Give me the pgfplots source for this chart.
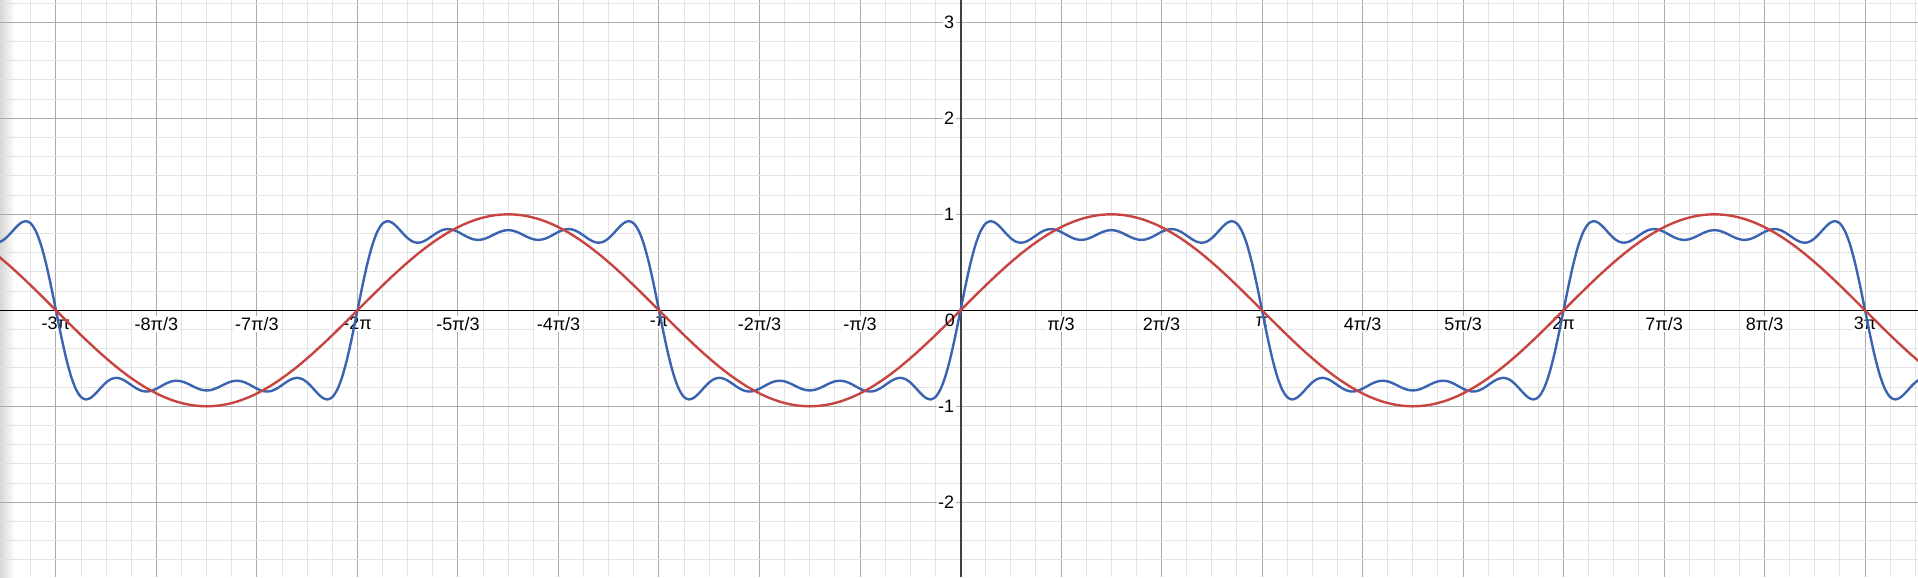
\documentclass[border=0pt]{standalone}
\usepackage{pgfplots}
\pgfplotsset{compat=1.18}
\usepackage{fontspec}
\setmainfont{Liberation Sans}
\definecolor{dblue}{HTML}{3A63B1}
\definecolor{dred}{HTML}{C74440}
\begin{document}
\begin{tikzpicture}
\begin{axis}[
  set layers,
  width=1438.5pt, height=432.75pt, scale only axis,
  xmin=-573.4, xmax=571.6, ymin=-2.778, ymax=3.232,
  axis lines=middle,
  axis line style={-},
  x axis line style={black, line width=0.9pt},
  y axis line style={black!75, line width=1.5pt},
  xtick={-540,-480,...,540},
  xticklabels={-3π,-8π/3,-7π/3,-2π,-5π/3,-4π/3,-π,-2π/3,-π/3,{},π/3,2π/3,π,4π/3,5π/3,2π,7π/3,8π/3,3π},
  minor xtick={-570,-555,...,570},
  ytick={-2,-1,0,1,2,3},
  yticklabels={-2,-1,{},1,2,3},
  minor ytick={-2.6,-2.4,-2.2,-1.8,-1.6,-1.4,-1.2,-0.8,-0.6,-0.4,-0.2,0.2,0.4,0.6,0.8,1.2,1.4,1.6,1.8,2.2,2.4,2.6,2.8,3.2},
  grid=both,
  major grid style={draw=black!33, line width=0.75pt},
  minor grid style={draw=black!11, line width=0.75pt},
  major tick length=0pt, minor tick length=0pt,
  tick label style={font=\fontsize{13.5}{15}\selectfont, text=black},
  xticklabel style={fill=white, inner sep=1pt, anchor=north, yshift=-4pt},
  yticklabel style={fill=white, inner sep=1pt, anchor=east, xshift=-3.5pt},
  clip=true,
]
\begin{pgfonlayer}{axis background}
\shade[left color=black!16, right color=white] (rel axis cs:0,0) rectangle ([xshift=11pt]rel axis cs:0,1);
\end{pgfonlayer}
\coordinate (SW) at (rel axis cs:0,0);
\coordinate (NE) at (rel axis cs:1,1);
\addplot[dblue, line width=1.8pt, smooth, no markers] coordinates {
(-576,0.7036) (-573,0.7156) (-570,0.7508) (-567,0.8033) (-564,0.8614) (-561,0.9090) (-558,0.9286) (-555,0.9043) (-552,0.8248) (-549,0.6862) (-546,0.4930) (-543,0.2579)
(-540,0) (-537,-0.2579) (-534,-0.4930) (-531,-0.6862) (-528,-0.8248) (-525,-0.9043) (-522,-0.9286) (-519,-0.9090) (-516,-0.8614) (-513,-0.8033)
(-510,-0.7508) (-507,-0.7156) (-504,-0.7036) (-501,-0.7145) (-498,-0.7426) (-495,-0.7789) (-492,-0.8134) (-489,-0.8376) (-486,-0.8461) (-483,-0.8380)
(-480,-0.8165) (-477,-0.7881) (-474,-0.7604) (-471,-0.7406) (-468,-0.7334) (-465,-0.7404) (-462,-0.7592) (-459,-0.7846) (-456,-0.8099) (-453,-0.8282)
(-450,-0.8349) (-447,-0.8282) (-444,-0.8099) (-441,-0.7846) (-438,-0.7592) (-435,-0.7404) (-432,-0.7334) (-429,-0.7406) (-426,-0.7604) (-423,-0.7881)
(-420,-0.8165) (-417,-0.8380) (-414,-0.8461) (-411,-0.8376) (-408,-0.8134) (-405,-0.7789) (-402,-0.7426) (-399,-0.7145) (-396,-0.7036) (-393,-0.7156)
(-390,-0.7508) (-387,-0.8033) (-384,-0.8614) (-381,-0.9090) (-378,-0.9286) (-375,-0.9043) (-372,-0.8248) (-369,-0.6862) (-366,-0.4930) (-363,-0.2579)
(-360,0) (-357,0.2579) (-354,0.4930) (-351,0.6862) (-348,0.8248) (-345,0.9043) (-342,0.9286) (-339,0.9090) (-336,0.8614) (-333,0.8033)
(-330,0.7508) (-327,0.7156) (-324,0.7036) (-321,0.7145) (-318,0.7426) (-315,0.7789) (-312,0.8134) (-309,0.8376) (-306,0.8461) (-303,0.8380)
(-300,0.8165) (-297,0.7881) (-294,0.7604) (-291,0.7406) (-288,0.7334) (-285,0.7404) (-282,0.7592) (-279,0.7846) (-276,0.8099) (-273,0.8282)
(-270,0.8349) (-267,0.8282) (-264,0.8099) (-261,0.7846) (-258,0.7592) (-255,0.7404) (-252,0.7334) (-249,0.7406) (-246,0.7604) (-243,0.7881)
(-240,0.8165) (-237,0.8380) (-234,0.8461) (-231,0.8376) (-228,0.8134) (-225,0.7789) (-222,0.7426) (-219,0.7145) (-216,0.7036) (-213,0.7156)
(-210,0.7508) (-207,0.8033) (-204,0.8614) (-201,0.9090) (-198,0.9286) (-195,0.9043) (-192,0.8248) (-189,0.6862) (-186,0.4930) (-183,0.2579)
(-180,0) (-177,-0.2579) (-174,-0.4930) (-171,-0.6862) (-168,-0.8248) (-165,-0.9043) (-162,-0.9286) (-159,-0.9090) (-156,-0.8614) (-153,-0.8033)
(-150,-0.7508) (-147,-0.7156) (-144,-0.7036) (-141,-0.7145) (-138,-0.7426) (-135,-0.7789) (-132,-0.8134) (-129,-0.8376) (-126,-0.8461) (-123,-0.8380)
(-120,-0.8165) (-117,-0.7881) (-114,-0.7604) (-111,-0.7406) (-108,-0.7334) (-105,-0.7404) (-102,-0.7592) (-99,-0.7846) (-96,-0.8099) (-93,-0.8282)
(-90,-0.8349) (-87,-0.8282) (-84,-0.8099) (-81,-0.7846) (-78,-0.7592) (-75,-0.7404) (-72,-0.7334) (-69,-0.7406) (-66,-0.7604) (-63,-0.7881)
(-60,-0.8165) (-57,-0.8380) (-54,-0.8461) (-51,-0.8376) (-48,-0.8134) (-45,-0.7789) (-42,-0.7426) (-39,-0.7145) (-36,-0.7036) (-33,-0.7156)
(-30,-0.7508) (-27,-0.8033) (-24,-0.8614) (-21,-0.9090) (-18,-0.9286) (-15,-0.9043) (-12,-0.8248) (-9,-0.6862) (-6,-0.4930) (-3,-0.2579)
(0,0) (3,0.2579) (6,0.4930) (9,0.6862) (12,0.8248) (15,0.9043) (18,0.9286) (21,0.9090) (24,0.8614) (27,0.8033)
(30,0.7508) (33,0.7156) (36,0.7036) (39,0.7145) (42,0.7426) (45,0.7789) (48,0.8134) (51,0.8376) (54,0.8461) (57,0.8380)
(60,0.8165) (63,0.7881) (66,0.7604) (69,0.7406) (72,0.7334) (75,0.7404) (78,0.7592) (81,0.7846) (84,0.8099) (87,0.8282)
(90,0.8349) (93,0.8282) (96,0.8099) (99,0.7846) (102,0.7592) (105,0.7404) (108,0.7334) (111,0.7406) (114,0.7604) (117,0.7881)
(120,0.8165) (123,0.8380) (126,0.8461) (129,0.8376) (132,0.8134) (135,0.7789) (138,0.7426) (141,0.7145) (144,0.7036) (147,0.7156)
(150,0.7508) (153,0.8033) (156,0.8614) (159,0.9090) (162,0.9286) (165,0.9043) (168,0.8248) (171,0.6862) (174,0.4930) (177,0.2579)
(180,0) (183,-0.2579) (186,-0.4930) (189,-0.6862) (192,-0.8248) (195,-0.9043) (198,-0.9286) (201,-0.9090) (204,-0.8614) (207,-0.8033)
(210,-0.7508) (213,-0.7156) (216,-0.7036) (219,-0.7145) (222,-0.7426) (225,-0.7789) (228,-0.8134) (231,-0.8376) (234,-0.8461) (237,-0.8380)
(240,-0.8165) (243,-0.7881) (246,-0.7604) (249,-0.7406) (252,-0.7334) (255,-0.7404) (258,-0.7592) (261,-0.7846) (264,-0.8099) (267,-0.8282)
(270,-0.8349) (273,-0.8282) (276,-0.8099) (279,-0.7846) (282,-0.7592) (285,-0.7404) (288,-0.7334) (291,-0.7406) (294,-0.7604) (297,-0.7881)
(300,-0.8165) (303,-0.8380) (306,-0.8461) (309,-0.8376) (312,-0.8134) (315,-0.7789) (318,-0.7426) (321,-0.7145) (324,-0.7036) (327,-0.7156)
(330,-0.7508) (333,-0.8033) (336,-0.8614) (339,-0.9090) (342,-0.9286) (345,-0.9043) (348,-0.8248) (351,-0.6862) (354,-0.4930) (357,-0.2579)
(360,0) (363,0.2579) (366,0.4930) (369,0.6862) (372,0.8248) (375,0.9043) (378,0.9286) (381,0.9090) (384,0.8614) (387,0.8033)
(390,0.7508) (393,0.7156) (396,0.7036) (399,0.7145) (402,0.7426) (405,0.7789) (408,0.8134) (411,0.8376) (414,0.8461) (417,0.8380)
(420,0.8165) (423,0.7881) (426,0.7604) (429,0.7406) (432,0.7334) (435,0.7404) (438,0.7592) (441,0.7846) (444,0.8099) (447,0.8282)
(450,0.8349) (453,0.8282) (456,0.8099) (459,0.7846) (462,0.7592) (465,0.7404) (468,0.7334) (471,0.7406) (474,0.7604) (477,0.7881)
(480,0.8165) (483,0.8380) (486,0.8461) (489,0.8376) (492,0.8134) (495,0.7789) (498,0.7426) (501,0.7145) (504,0.7036) (507,0.7156)
(510,0.7508) (513,0.8033) (516,0.8614) (519,0.9090) (522,0.9286) (525,0.9043) (528,0.8248) (531,0.6862) (534,0.4930) (537,0.2579)
(540,0) (543,-0.2579) (546,-0.4930) (549,-0.6862) (552,-0.8248) (555,-0.9043) (558,-0.9286) (561,-0.9090) (564,-0.8614) (567,-0.8033) (570,-0.7508) (573,-0.7156) (576,-0.7036)
};
\addplot[dred, line width=1.8pt, smooth, no markers] coordinates {
(-576,0.5878) (-567,0.4540) (-558,0.3090) (-549,0.1564) (-540,0)
(-531,-0.1564) (-522,-0.3090) (-513,-0.4540) (-504,-0.5878) (-495,-0.7071) (-486,-0.8090) (-477,-0.8910) (-468,-0.9511) (-459,-0.9877) (-450,-1)
(-441,-0.9877) (-432,-0.9511) (-423,-0.8910) (-414,-0.8090) (-405,-0.7071) (-396,-0.5878) (-387,-0.4540) (-378,-0.3090) (-369,-0.1564) (-360,0)
(-351,0.1564) (-342,0.3090) (-333,0.4540) (-324,0.5878) (-315,0.7071) (-306,0.8090) (-297,0.8910) (-288,0.9511) (-279,0.9877) (-270,1)
(-261,0.9877) (-252,0.9511) (-243,0.8910) (-234,0.8090) (-225,0.7071) (-216,0.5878) (-207,0.4540) (-198,0.3090) (-189,0.1564) (-180,0)
(-171,-0.1564) (-162,-0.3090) (-153,-0.4540) (-144,-0.5878) (-135,-0.7071) (-126,-0.8090) (-117,-0.8910) (-108,-0.9511) (-99,-0.9877) (-90,-1)
(-81,-0.9877) (-72,-0.9511) (-63,-0.8910) (-54,-0.8090) (-45,-0.7071) (-36,-0.5878) (-27,-0.4540) (-18,-0.3090) (-9,-0.1564) (0,0)
(9,0.1564) (18,0.3090) (27,0.4540) (36,0.5878) (45,0.7071) (54,0.8090) (63,0.8910) (72,0.9511) (81,0.9877) (90,1)
(99,0.9877) (108,0.9511) (117,0.8910) (126,0.8090) (135,0.7071) (144,0.5878) (153,0.4540) (162,0.3090) (171,0.1564) (180,0)
(189,-0.1564) (198,-0.3090) (207,-0.4540) (216,-0.5878) (225,-0.7071) (234,-0.8090) (243,-0.8910) (252,-0.9511) (261,-0.9877) (270,-1)
(279,-0.9877) (288,-0.9511) (297,-0.8910) (306,-0.8090) (315,-0.7071) (324,-0.5878) (333,-0.4540) (342,-0.3090) (351,-0.1564) (360,0)
(369,0.1564) (378,0.3090) (387,0.4540) (396,0.5878) (405,0.7071) (414,0.8090) (423,0.8910) (432,0.9511) (441,0.9877) (450,1)
(459,0.9877) (468,0.9511) (477,0.8910) (486,0.8090) (495,0.7071) (504,0.5878) (513,0.4540) (522,0.3090) (531,0.1564) (540,0)
(549,-0.1564) (558,-0.3090) (567,-0.4540) (576,-0.5878)
};
\node[anchor=north east, inner sep=0pt, xshift=-4pt, yshift=-2.5pt, font=\fontsize{13.5}{15}\selectfont, text=black] at (axis cs:0,0) {0};
\end{axis}
\pgfresetboundingbox
\path (SW) rectangle (NE);
\end{tikzpicture}
\end{document}
